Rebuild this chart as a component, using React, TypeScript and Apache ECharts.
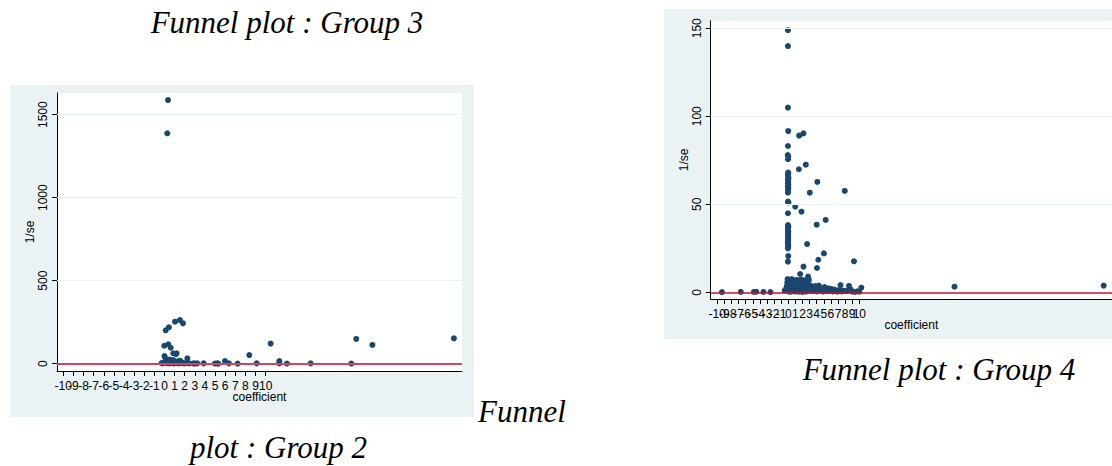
import React, { useEffect, useRef } from 'react';
import * as echarts from 'echarts';

// Tick values shared by both charts' x axes
const xTickValues = [-10, -9, -8, -7, -6, -5, -4, -3, -2, -1, 0, 1, 2, 3, 4, 5, 6, 7, 8, 9, 10];

// Group 2 (left chart)
const g2YTicks = [0, 500, 1000, 1500];
const g2Coef = [
  0.35, 0.28, 0.12, 0.44, 1.04, 1.53, 1.83,
  -0.02, 0.38, 0.61, 0.0, 0.15, 0.87, 1.14, 1.2, 2.26, 0.87, 1.53, 0.3, 0.6, 1.0, 1.4, 1.7, 0.1, 0.5, 1.3,
  -0.28, -0.18, 0.21, 0.48, 0.71, 0.94, 1.2, 1.43, 1.7, 1.96, 2.19, 2.45, 2.85, 3.01, 3.24, 3.87,
  4.99, 5.22, 5.32, 5.98, 6.37, 7.23, 9.11, 11.35, 11.35, 12.1, 14.44, 18.46,
  8.38, 10.49, 18.95, 20.55, 28.6,
];
const g2InvSe = [
  1588, 1388, 201, 219, 253, 263, 243,
  108, 117, 96, 46, 22, 63, 58, 63, 32, 22, 18, 10, 8, 12, 6, 9, 30, 25, 14,
  4, 2, 3, 2, 5, 2, 3, 2, 4, 2, 3, 2, 2, 1, 2, 2,
  1, 2, 1, 16, 2, 1, 2, 16, 2, 1, 2, 1,
  52, 121, 149, 113, 153,
];

// Group 4 (right chart)
const g4YTicks = [0, 50, 100, 150];
const g4Coef = [
  // vertical column near zero
  -0.05, -0.05, -0.05, 0.0, -0.05, -0.07, 0.0, -0.03, 0.0, -0.05, -0.02, 0.02, -0.05, 0.0, -0.04, 0.01, -0.05, 0.0,
  -0.03, -0.05, -0.05, 0.02, -0.05, -0.05, 0.0, -0.03, -0.06, 0.01, -0.05, 0.0, -0.04, -0.02, 0.0, -0.05, -0.05,
  0.01, -0.04, -0.05, 0.0, -0.05, -0.1, 0.05, -0.15, 0.1, -0.2, 0.15, -0.3, 0.2,
  // scattered points
  1.53, 2.14, 2.47, 1.49, 4.09, 3.03, 7.95, 0.98, 1.86, 5.26, 4.0, 2.65, 5.02, 4.23, 9.25, 2.14, 4.04,
  1.67, 2.79, 7.35, 8.55, 10.28, 23.4, 44.4,
  // left tail
  -9.34, -6.69, -4.84, -4.5, -3.49, -2.51,
  // dense cluster near zero
  -0.5, -0.3, 0.2, 0.3, 0.5, 0.6, 0.8, 0.9, 1.0, 1.1, 1.2, 1.3, 1.5, 1.6, 1.7, 1.9, 2.0, 2.1, 2.2, 2.4,
  2.5, 2.6, 2.8, 2.9, 3.0, 3.1, 3.3, 3.5, 3.6, 3.8, 4.0, 4.2, 4.3, 4.5, 4.7, 4.9, 5.1, 5.3, 5.5, 5.7,
  5.9, 6.1, 6.3, 6.5, 6.7, 6.9, 7.1, 7.5, 7.7, 8.0, 8.3, 8.8, 9.0, 9.4, 9.7, 10.0, 0.4, 0.7, 1.4, 1.8,
  2.3, 2.7, 3.2, 3.4, 0.1, 0.5, 1.0, 1.5, 2.0, 2.5,
];
const g4InvSe = [
  148.9, 139.9, 104.9, 91.6, 83.1, 78.0, 77.1, 75.6, 68.0, 67.0, 65.7, 64.8, 63.8, 62.8, 61.9, 61.0, 60.0, 59.0,
  58.1, 56.6, 51.5, 51.0, 44.9, 38.2, 37.5, 36.9, 35.4, 34.5, 33.5, 32.5, 31.6, 30.5, 29.7, 28.8, 27.8,
  26.8, 25.9, 25.0, 20.6, 17.4, 7.5, 6.5, 5.5, 4.5, 3.5, 2.5, 1.5, 0.8,
  89.0, 90.3, 72.5, 69.9, 62.7, 56.6, 57.6, 48.6, 45.8, 41.1, 38.4, 27.4, 22.1, 18.5, 17.6, 14.6, 13.8,
  10.4, 8.9, 4.1, 3.6, 2.6, 3.2, 3.8,
  0.1, 0.2, 0.2, 0.3, 0.2, 0.1,
  1.0, 2.0, 4.0, 6.0, 7.5, 5.0, 3.0, 6.5, 1.0, 4.0, 7.0, 2.5, 5.5, 1.0, 6.0, 3.0, 4.5, 0.5, 6.8, 2.0,
  3.5, 5.0, 1.0, 7.0, 2.5, 4.0, 0.8, 2.0, 1.2, 3.5, 0.5, 2.5, 3.8, 1.0, 2.0, 0.4, 3.0, 1.5, 0.6, 2.2,
  1.0, 1.8, 0.5, 1.6, 0.8, 0.3, 1.2, 0.5, 1.0, 0.6, 0.8, 1.5, 0.4, 0.2, 0.6, 0.3, 0.5, 5.5, 3.0, 7.2,
  4.8, 2.0, 1.5, 0.7, 0.3, 0.5, 0.4, 0.3, 0.2, 0.4,
];

const captions = ['Funnel plot : Group 3', 'Funnel plot : Group 4', 'Funnel', 'plot : Group 2'];

const MARKER = '#1a476f';
const PANEL = '#eaf2f3';
const SANS = '"Liberation Sans", Arial, Helvetica, sans-serif';
const SERIF = '"Liberation Serif", "Times New Roman", serif';

const G2_X = [-10.62, 29.4];
const G2_Y = [-44, 1630.7];
const G4_X = [-10.92, 45.57];
const G4_Y = [-3.81, 154.3];

function zip(xs: number[], ys: number[]) {
  return xs.map((x, i) => [x, ys[i]]);
}

function xAxisCfg(gridIndex: number, min: number, max: number) {
  return {
    type: 'value',
    gridIndex,
    min,
    max,
    name: 'coefficient',
    nameLocation: 'middle',
    nameGap: 20,
    nameMoveOverlap: false,
    nameTextStyle: { color: '#000', fontSize: 12, fontFamily: SANS },
    axisLine: { show: true, onZero: false, lineStyle: { color: '#000', width: 1 } },
    axisTick: { show: true, length: 5, customValues: xTickValues, lineStyle: { color: '#000', width: 1 } },
    axisLabel: { show: false },
    splitLine: { show: false },
  };
}

function yAxisCfg(gridIndex: number, min: number, max: number, ticks: number[]) {
  return {
    type: 'value',
    gridIndex,
    min,
    max,
    name: '1/se',
    nameLocation: 'middle',
    nameGap: 21,
    nameMoveOverlap: false,
    nameRotate: 90,
    nameTextStyle: { color: '#000', fontSize: 12, fontFamily: SANS },
    axisLine: { show: true, onZero: false, lineStyle: { color: '#000', width: 1 } },
    axisTick: { show: true, length: 5, customValues: ticks, lineStyle: { color: '#000', width: 1 } },
    axisLabel: {
      show: true,
      customValues: ticks,
      interval: 0,
      showMinLabel: true,
      showMaxLabel: true,
      hideOverlap: false,
      rotate: 90,
      color: '#000',
      fontSize: 12,
      fontFamily: SANS,
      margin: 8,
      formatter: (v: number) => String(v),
    },
    splitLine: { show: false },
  };
}

export default function App() {
  const ref = useRef<HTMLDivElement>(null);

  useEffect(() => {
    if (!ref.current) return;
    const chart = echarts.init(ref.current, null, { renderer: 'svg' });

    const gridLines = (xi: number, ticks: number[]) => ({
      type: 'scatter',
      xAxisIndex: xi,
      yAxisIndex: xi,
      data: [],
      z: 1,
      silent: true,
      markLine: {
        silent: true,
        symbol: 'none',
        label: { show: false },
        lineStyle: { color: PANEL, width: 1, type: 'solid' },
        data: ticks.filter((t) => t !== 0).map((t) => ({ yAxis: t })),
      },
    });

    const refLine = (xi: number, color: string, width: number) => ({
      type: 'scatter',
      xAxisIndex: xi,
      yAxisIndex: xi,
      data: [],
      z: 2,
      silent: true,
      markLine: {
        silent: true,
        symbol: 'none',
        label: { show: false },
        lineStyle: { color, width, type: 'solid' },
        data: [{ yAxis: 0 }],
      },
    });

    const points = (xi: number, xs: number[], ys: number[]) => ({
      type: 'scatter',
      xAxisIndex: xi,
      yAxisIndex: xi,
      z: 3,
      symbol: 'circle',
      symbolSize: 6,
      itemStyle: { color: MARKER, opacity: 1 },
      data: zip(xs, ys),
    });

    // x tick labels drawn as labels of invisible points sitting on the x axis
    const xLabels = (xi: number, yMin: number) => ({
      type: 'scatter',
      xAxisIndex: xi,
      yAxisIndex: xi,
      z: 4,
      silent: true,
      clip: false,
      symbol: 'circle',
      symbolSize: 1,
      itemStyle: { color: 'rgba(0,0,0,0)', opacity: 1 },
      labelLayout: { hideOverlap: false },
      label: {
        show: true,
        position: 'bottom',
        distance: 8,
        color: '#000',
        opacity: 1,
        fontSize: 12,
        fontFamily: SANS,
        formatter: (p: any) => String(p.value[0]),
      },
      data: xTickValues.map((v) => [v, yMin]),
    });

    const capFont = `italic 31px ${SERIF}`;

    const option = {
      animation: false,
      backgroundColor: '#ffffff',
      graphic: [
        { type: 'rect', z: -10, shape: { x: 10, y: 85, width: 464, height: 332 }, style: { fill: PANEL } },
        { type: 'rect', z: -10, shape: { x: 664, y: 9, width: 470, height: 330 }, style: { fill: PANEL } },
        {
          type: 'text', x: 287, y: 22,
          style: { text: captions[0], font: capFont, fill: '#000', textAlign: 'center', textVerticalAlign: 'middle' },
        },
        {
          type: 'text', x: 939, y: 369,
          style: { text: captions[1], font: capFont, fill: '#000', textAlign: 'center', textVerticalAlign: 'middle' },
        },
        {
          type: 'text', x: 478, y: 411,
          style: { text: captions[2], font: capFont, fill: '#000', textAlign: 'left', textVerticalAlign: 'middle' },
        },
        {
          type: 'text', x: 190, y: 447,
          style: { text: captions[3], font: capFont, fill: '#000', textAlign: 'left', textVerticalAlign: 'middle' },
        },
      ],
      grid: [
        { left: 57, top: 93, width: 405, height: 278, show: true, backgroundColor: '#ffffff', borderWidth: 0, containLabel: false },
        { left: 710.7, top: 20.7, width: 405, height: 278.3, show: true, backgroundColor: '#ffffff', borderWidth: 0, containLabel: false },
      ],
      xAxis: [xAxisCfg(0, G2_X[0], G2_X[1]), xAxisCfg(1, G4_X[0], G4_X[1])],
      yAxis: [yAxisCfg(0, G2_Y[0], G2_Y[1], g2YTicks), yAxisCfg(1, G4_Y[0], G4_Y[1], g4YTicks)],
      series: [
        gridLines(0, g2YTicks),
        refLine(0, '#d04462', 2),
        points(0, g2Coef, g2InvSe),
        xLabels(0, G2_Y[0]),
        gridLines(1, g4YTicks),
        refLine(1, '#c8102e', 1.5),
        points(1, g4Coef, g4InvSe),
        xLabels(1, G4_Y[0]),
      ],
    };

    chart.setOption(option as any);
    return () => chart.dispose();
  }, []);

  return (
    <div
      ref={ref}
      style={{ position: 'fixed', left: 0, top: 0, width: 1112, height: 466, background: '#ffffff' }}
    />
  );
}
